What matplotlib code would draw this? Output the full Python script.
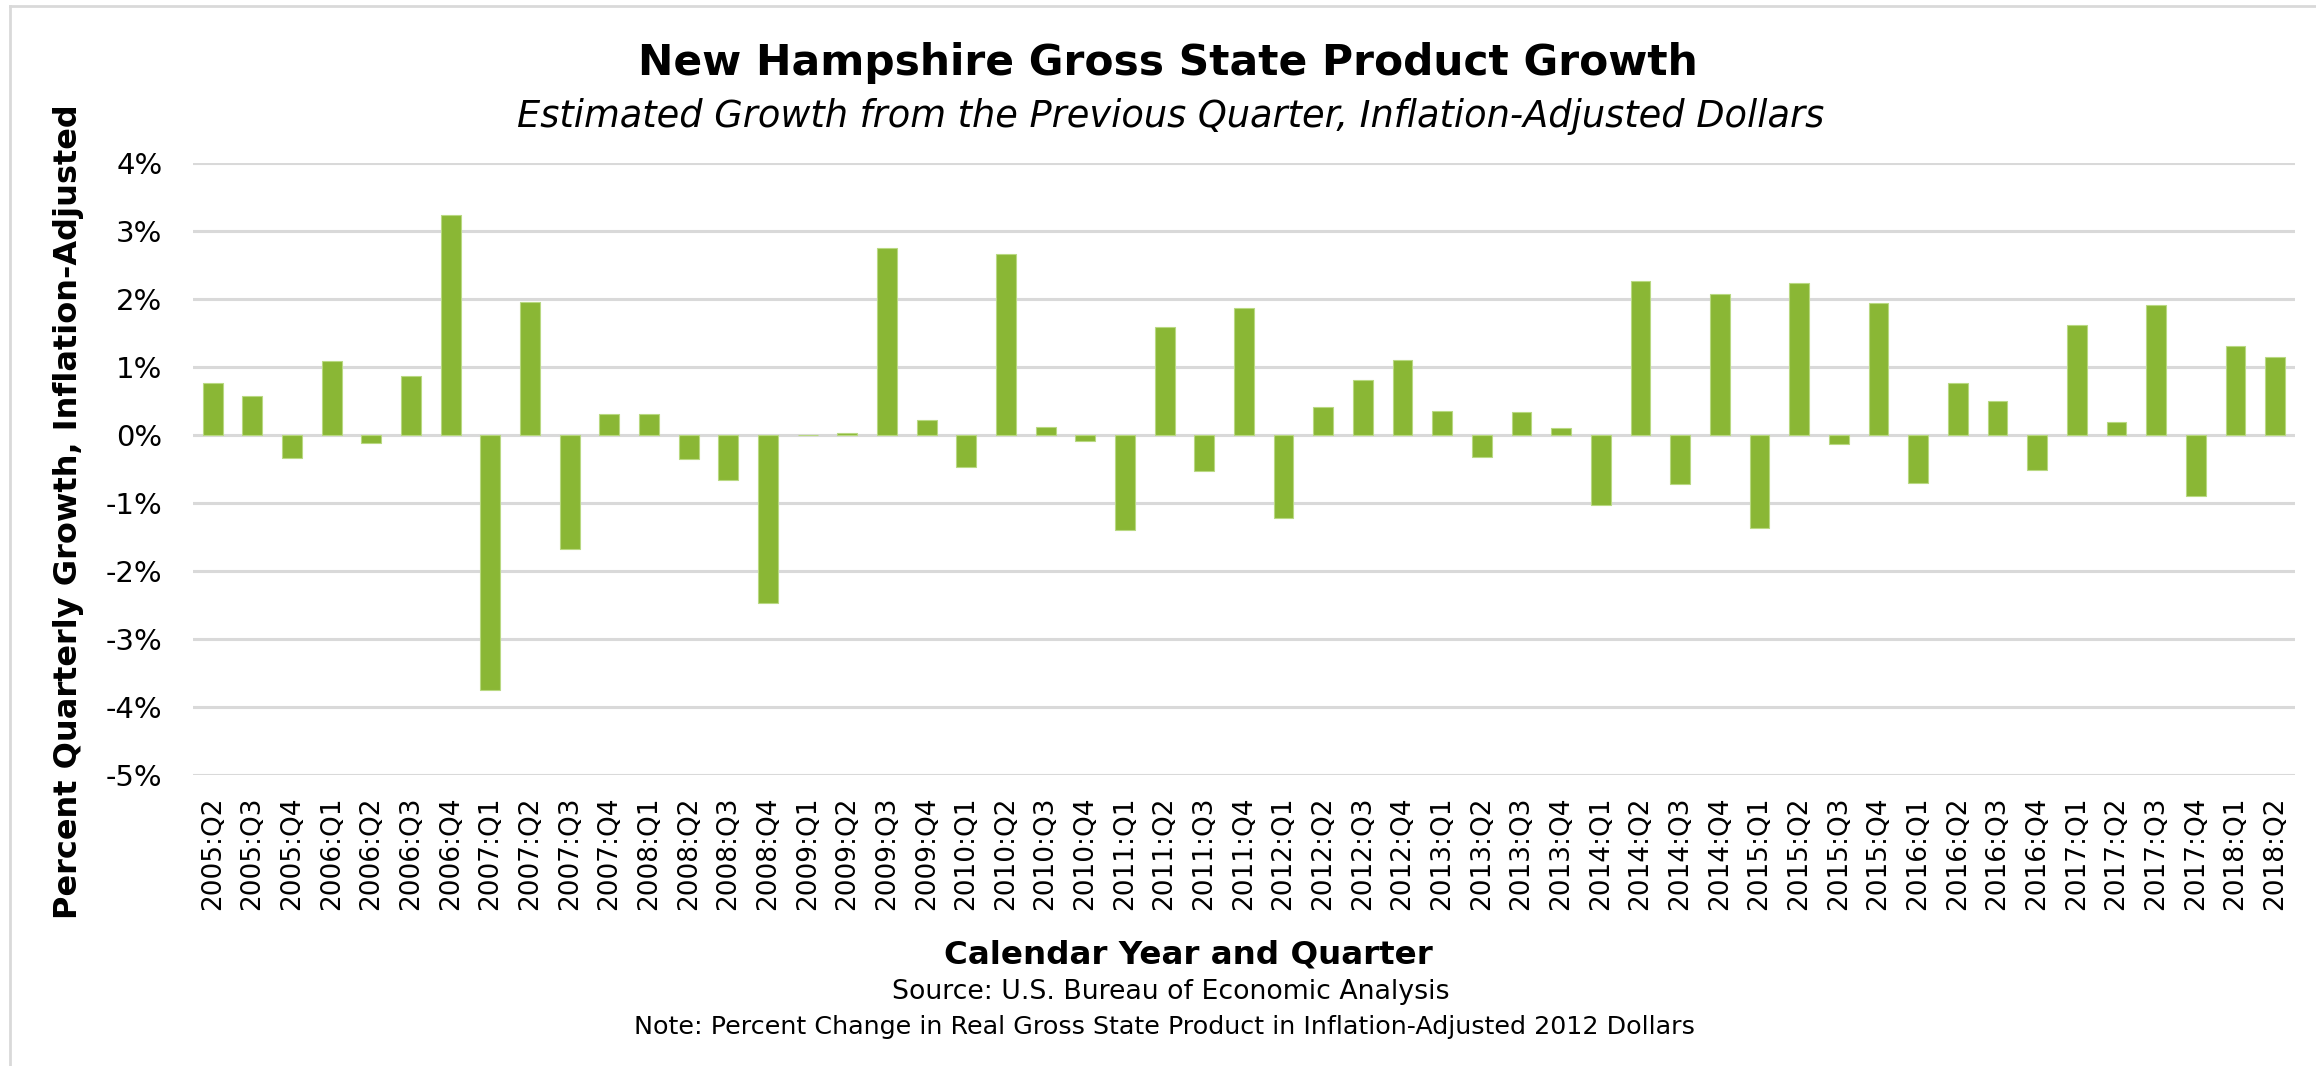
import matplotlib
matplotlib.use("Agg")
import matplotlib.pyplot as plt
from matplotlib.lines import Line2D

plt.rcParams['font.family'] = ['DejaVu Sans']
plt.rcParams['axes.unicode_minus'] = False

# Quarterly growth, percent
quarters = [
    "2005:Q2", "2005:Q3", "2005:Q4",
    "2006:Q1", "2006:Q2", "2006:Q3", "2006:Q4",
    "2007:Q1", "2007:Q2", "2007:Q3", "2007:Q4",
    "2008:Q1", "2008:Q2", "2008:Q3", "2008:Q4",
    "2009:Q1", "2009:Q2", "2009:Q3", "2009:Q4",
    "2010:Q1", "2010:Q2", "2010:Q3", "2010:Q4",
    "2011:Q1", "2011:Q2", "2011:Q3", "2011:Q4",
    "2012:Q1", "2012:Q2", "2012:Q3", "2012:Q4",
    "2013:Q1", "2013:Q2", "2013:Q3", "2013:Q4",
    "2014:Q1", "2014:Q2", "2014:Q3", "2014:Q4",
    "2015:Q1", "2015:Q2", "2015:Q3", "2015:Q4",
    "2016:Q1", "2016:Q2", "2016:Q3", "2016:Q4",
    "2017:Q1", "2017:Q2", "2017:Q3", "2017:Q4",
    "2018:Q1", "2018:Q2",
]
growth = [
    0.76, 0.57, -0.35,
    1.08, -0.12, 0.87, 3.23,
    -3.76, 1.95, -1.68, 0.31,
    0.31, -0.36, -0.66, -2.47,
    0.00, 0.03, 2.74, 0.21,
    -0.48, 2.65, 0.12, -0.09,
    -1.40, 1.59, -0.54, 1.86,
    -1.22, 0.40, 0.80, 1.10,
    0.35, -0.33, 0.33, 0.10,
    -1.03, 2.26, -0.73, 2.07,
    -1.37, 2.23, -0.13, 1.93,
    -0.71, 0.76, 0.50, -0.52,
    1.61, 0.18, 1.90, -0.90,
    1.31, 1.14,
]
y_ticks = [-5, -4, -3, -2, -1, 0, 1, 2, 3, 4]

bar_color = '#8ab735'
grid_color = '#d9d9d9'

fig = plt.figure(figsize=(23.16, 10.66), dpi=100)
fig.patch.set_facecolor('white')
ax = fig.add_axes([0.0833, 0.2733, 0.9076, 0.5741])

x = list(range(len(quarters)))
ax.bar(x, growth, width=0.5, color=bar_color, edgecolor='#b9d982',
       linewidth=0.8, zorder=3)

ax.set_xlim(-0.5, len(quarters) - 0.5)
ax.set_ylim(-5, 4)
ax.set_yticks(y_ticks)
ax.set_yticklabels([f"{t}%" for t in y_ticks])
for t in y_ticks:
    ax.axhline(t, color=grid_color, linewidth=2.2, zorder=1)

ax.set_xticks(x)
ax.set_xticklabels(quarters, rotation=90)
ax.tick_params(axis='y', length=0, pad=22, labelsize=21)
ax.tick_params(axis='x', length=0, pad=16, labelsize=19)
for s in ax.spines.values():
    s.set_visible(False)

# Titles and notes
fig.text(0.5043, 0.9296, "New Hampshire Gross State Product Growth",
         ha='center', va='baseline', fontsize=30.5, fontweight='bold')
fig.text(0.5056, 0.8809,
         "Estimated Growth from the Previous Quarter, Inflation-Adjusted Dollars",
         ha='center', va='baseline', fontsize=26.5, style='italic')
fig.text(0.0294, 0.5205, "Percent Quarterly Growth, Inflation-Adjusted",
         ha='center', va='center', rotation=90, fontsize=23, fontweight='bold')
fig.text(0.513, 0.0966, "Calendar Year and Quarter",
         ha='center', va='baseline', fontsize=23.4, fontweight='bold')
fig.text(0.5056, 0.0629, "Source: U.S. Bureau of Economic Analysis",
         ha='center', va='baseline', fontsize=19.3)
fig.text(0.5026, 0.0300,
         "Note: Percent Change in Real Gross State Product in Inflation-Adjusted 2012 Dollars",
         ha='center', va='baseline', fontsize=18.3)

# Light frame on the left and top edges
fig.add_artist(Line2D([0.0043, 0.0043], [0.0, 0.9944], color=grid_color,
                      linewidth=2, transform=fig.transFigure))
fig.add_artist(Line2D([0.0043, 1.0], [0.9944, 0.9944], color=grid_color,
                      linewidth=2, transform=fig.transFigure))

fig.savefig("out.png", dpi=100, facecolor='white')
